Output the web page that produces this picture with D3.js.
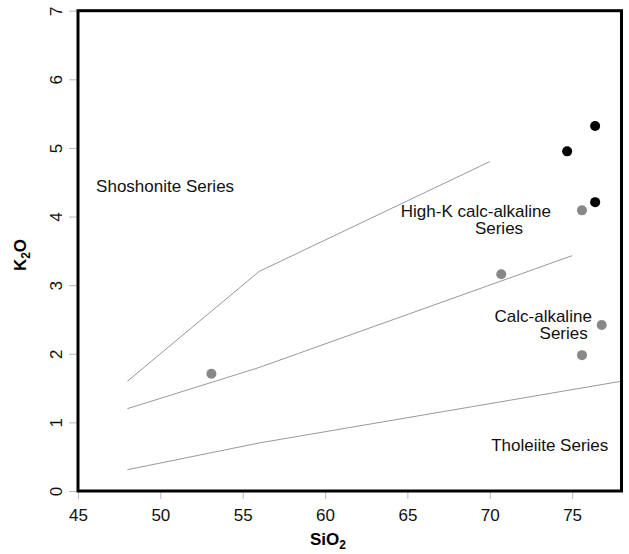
<!DOCTYPE html>
<html>
<head>
<meta charset="utf-8">
<script src="https://cdn.jsdelivr.net/npm/d3@7"></script>
<style>
  body { margin: 0; background: #fff; }
  svg { font-family: "Liberation Sans", Arial, sans-serif; }
</style>
</head>
<body>
<svg width="629" height="554"></svg>
<script>
// Граничные линии серий (SiO2, K2O)
const lineShoshonite = [[48, 1.6], [56, 3.2], [70, 4.8]];
const lineHighK = [[48, 1.2], [56, 1.8], [75, 3.43]];
const lineTholeiite = [[48, 0.31], [56, 0.7], [78, 1.6]];

// Образцы: чёрные и серые точки
const blackPoints = [[76.4, 5.32], [74.7, 4.95], [76.4, 4.21]];
const grayPoints = [[75.6, 4.09], [70.7, 3.16], [76.8, 2.42], [75.6, 1.98], [53.1, 1.71]];

const xTicks = [45, 50, 55, 60, 65, 70, 75];
const yTicks = [0, 1, 2, 3, 4, 5, 6, 7];

// Подписи полей
const labels = [
    {text: "Shoshonite Series", x: 46.1, y: 4.36, anchor: "start"},
    {text: "High-K calc-alkaline", x: 64.6, y: 4.0, anchor: "start"},
    {text: "Series", x: 69.1, y: 3.74, anchor: "start"},
    {text: "Calc-alkaline", x: 76.2, y: 2.47, anchor: "end"},
    {text: "Series", x: 75.95, y: 2.21, anchor: "end"},
    {text: "Tholeiite Series", x: 77.2, y: 0.59, anchor: "end"}
];

let svg = d3.select("svg");

const attr_area = {left: 78, right: 621.5, top: 10.7, bottom: 491};

let scX = d3.scaleLinear().domain([45, 78]).range([attr_area.left, attr_area.right]);
let scY = d3.scaleLinear().domain([0, 7]).range([attr_area.bottom, attr_area.top]);

// Оси
let axisX = d3.axisBottom(scX).tickValues(xTicks).tickFormat(d3.format("d")).tickSize(8).tickPadding(10);
let axisY = d3.axisLeft(scY).tickValues(yTicks).tickFormat(d3.format("d")).tickSize(9).tickPadding(6);

let gx = svg.append("g")
    .attr("transform", `translate(0, ${attr_area.bottom})`)
    .call(axisX);
gx.select(".domain").remove();
gx.selectAll("line").attr("stroke", "#bbb");
gx.selectAll("text").attr("font-size", 17).attr("font-family", "Liberation Sans, Arial, sans-serif").attr("fill", "#111");

let gy = svg.append("g")
    .attr("transform", `translate(${attr_area.left}, 0)`)
    .call(axisY);
gy.select(".domain").remove();
gy.selectAll("line").attr("stroke", "#bbb");
// подписи оси Y повёрнуты, как в R (las = 0)
gy.selectAll("text")
    .attr("font-size", 17)
    .attr("font-family", "Liberation Sans, Arial, sans-serif")
    .attr("fill", "#111")
    .attr("x", null).attr("dy", null)
    .attr("text-anchor", "middle")
    .attr("transform", "translate(-16, 0) rotate(-90)")
    .attr("y", 0);

// Граничные линии
const line = d3.line().x(d => scX(d[0])).y(d => scY(d[1]));
[lineShoshonite, lineHighK, lineTholeiite].forEach(l => {
    svg.append("path")
        .datum(l)
        .attr("d", line)
        .attr("fill", "none")
        .attr("stroke", "#999")
        .attr("stroke-width", 1);
});

// Точки
svg.selectAll(".gray-dot")
    .data(grayPoints)
    .enter()
    .append("circle")
    .attr("cx", d => scX(d[0]))
    .attr("cy", d => scY(d[1]))
    .attr("r", 5)
    .attr("fill", "#888");

svg.selectAll(".black-dot")
    .data(blackPoints)
    .enter()
    .append("circle")
    .attr("cx", d => scX(d[0]))
    .attr("cy", d => scY(d[1]))
    .attr("r", 5)
    .attr("fill", "#000");

// Подписи
svg.selectAll(".lbl")
    .data(labels)
    .enter()
    .append("text")
    .attr("x", d => scX(d.x))
    .attr("y", d => scY(d.y))
    .attr("text-anchor", d => d.anchor)
    .attr("font-size", 17)
    .attr("fill", "#111")
    .text(d => d.text);

// Рамка
svg.append("rect")
    .attr("x", attr_area.left)
    .attr("y", attr_area.top)
    .attr("width", attr_area.right - attr_area.left)
    .attr("height", attr_area.bottom - attr_area.top)
    .attr("fill", "none")
    .attr("stroke", "#000")
    .attr("stroke-width", 3);

// Названия осей
let tx = svg.append("text")
    .attr("x", 328)
    .attr("y", 545)
    .attr("text-anchor", "middle")
    .attr("font-size", 17)
    .attr("font-weight", "bold");
tx.append("tspan").text("SiO");
tx.append("tspan").attr("font-size", 12).attr("dy", 4).text("2");

let ty = svg.append("text")
    .attr("transform", "translate(26, 255) rotate(-90)")
    .attr("text-anchor", "middle")
    .attr("font-size", 17)
    .attr("font-weight", "bold");
ty.append("tspan").text("K");
ty.append("tspan").attr("font-size", 12).attr("dy", 4).text("2");
ty.append("tspan").attr("dy", -4).text("O");
</script>
</body>
</html>
